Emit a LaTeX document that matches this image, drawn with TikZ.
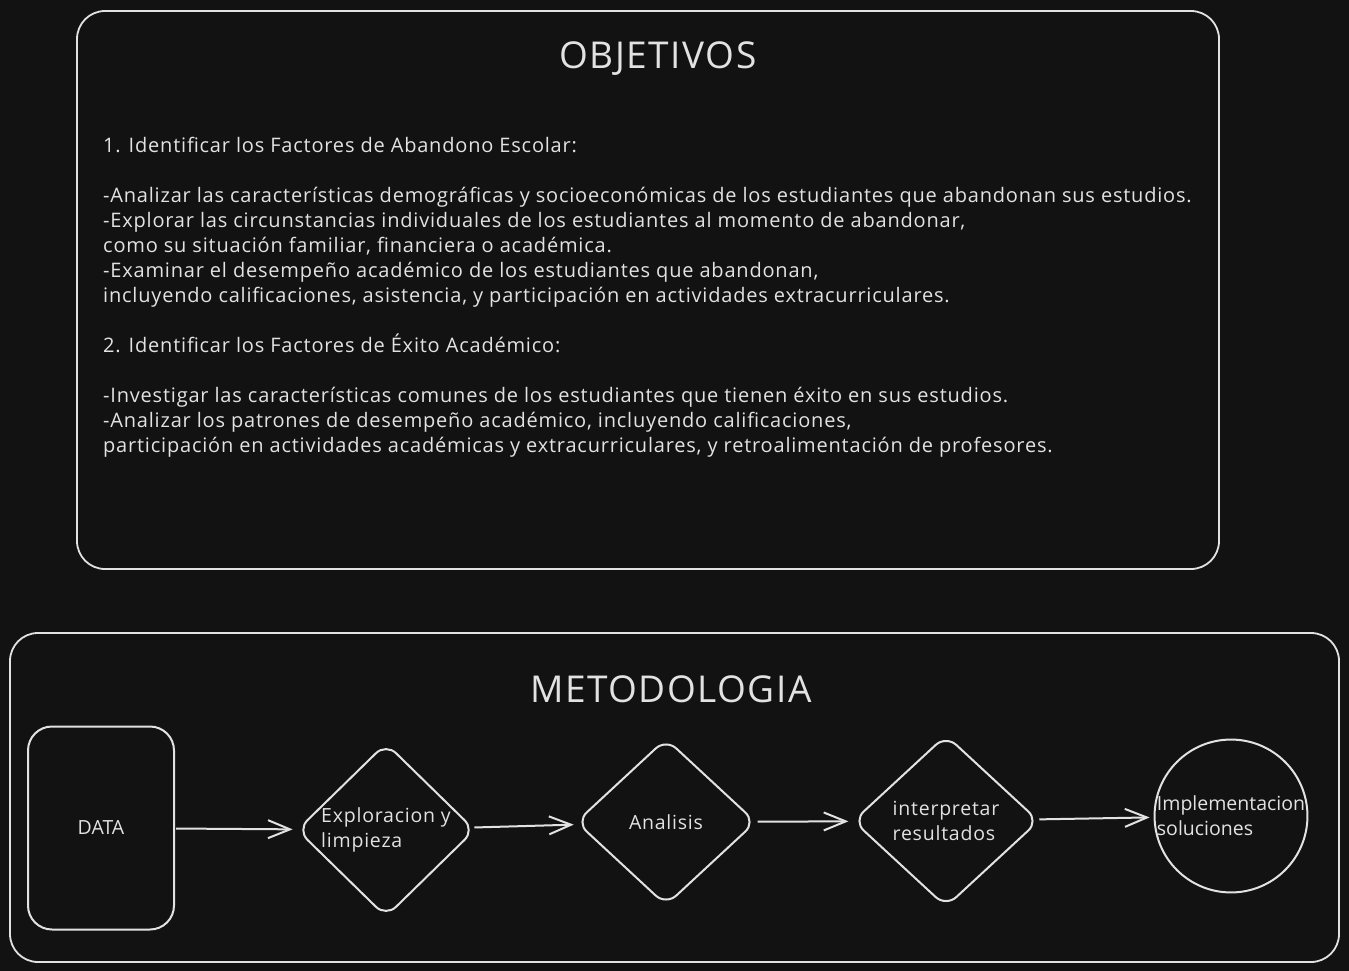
\documentclass[tikz,border=0pt]{standalone}
\usepackage{fontspec}
\setmainfont{Open Sans}
\newfontfamily\spacedfont{Open Sans}[LetterSpace=4]
\newfontfamily\titlefont{Open Sans}[LetterSpace=4]
\usetikzlibrary{shapes,arrows.meta,positioning,calc}
\definecolor{bg}{HTML}{121212}
\definecolor{ink}{HTML}{E2E2E2}

\begin{document}
\begin{tikzpicture}[
    x = 1pt, y = -1pt,
    frame/.style = {rectangle, draw=ink, line width=1.8pt, rounded corners=28pt},
    source/.style = {rectangle, draw=ink, line width=2pt, rounded corners=24pt, minimum width=146pt, minimum height=203pt, text=ink, font=\fontsize{19.5}{25}\selectfont},
    decision/.style = {diamond, draw=ink, line width=2pt, rounded corners=14pt, inner sep=0pt, align=left, text=ink, font=\spacedfont\fontsize{19.5}{25}\selectfont},
    finish/.style = {circle, draw=ink, line width=2pt, minimum size=145pt, inner sep=0pt, align=left, text=ink, font=\fontsize{19.5}{25}\selectfont},
    heading/.style = {text=ink, font=\titlefont\fontsize{37}{42}\selectfont},
    arrow/.style = {-{Straight Barb[length=22pt,width=18pt]}, draw=ink, line width=2pt, shorten >=4pt, shorten <=1pt}
]
    % Background
    \path[use as bounding box, fill=bg] (0,0) rectangle (1349,971);

    % Objetivos
    \node[frame, minimum width=1142pt, minimum height=558pt] (objbox) at (648,290) {};
    \node[heading] (objtitle) at (658,59) {OBJETIVOS};
    \node[text=ink, align=left, anchor=north west, inner sep=0pt, font=\spacedfont\fontsize{20}{25}\selectfont] (goals) at (103,137) {%
        1. Identificar los Factores de Abandono Escolar:\\[25pt]
        -Analizar las características demográficas y socioeconómicas de los estudiantes que abandonan sus estudios.\\
        -Explorar las circunstancias individuales de los estudiantes al momento de abandonar,\\
        como su situación familiar, financiera o académica.\\
        -Examinar el desempeño académico de los estudiantes que abandonan,\\
        incluyendo calificaciones, asistencia, y participación en actividades extracurriculares.\\[25pt]
        2. Identificar los Factores de Éxito Académico:\\[25pt]
        -Investigar las características comunes de los estudiantes que tienen éxito en sus estudios.\\
        -Analizar los patrones de desempeño académico, incluyendo calificaciones,\\
        participación en actividades académicas y extracurriculares, y retroalimentación de profesores.};

    % Metodologia
    \node[frame, minimum width=1329pt, minimum height=329pt] (metbox) at (674.5,797.5) {};
    \node[heading] (mettitle) at (671,689) {METODOLOGIA};

    % Steps
    \node[source] (data) at (101,828) {DATA};
    \node[decision, minimum width=178pt, minimum height=171pt] (explore) at (386,830) {Exploracion y\\limpieza};
    \node[decision, minimum width=180pt, minimum height=167pt] (analysis) at (666,822) {Analisis};
    \node[decision, minimum width=186pt, minimum height=172pt] (interpret) at (946,821) {interpretar\\resultados};
    \node[finish] (deploy) at (1231,816) {Implementacion\\soluciones};

    % Arrows
    \draw[arrow] (data) -- (explore);
    \draw[arrow] (explore) -- (analysis);
    \draw[arrow] (analysis) -- (interpret);
    \draw[arrow] (interpret) -- (deploy);
\end{tikzpicture}
\end{document}
